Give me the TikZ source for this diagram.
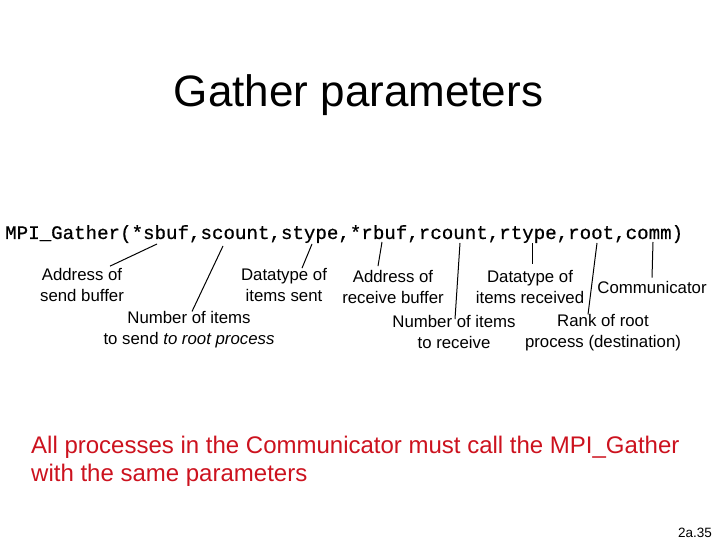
\documentclass[tikz,border=0pt]{standalone}
\usepackage{fontspec}
\setmainfont{Liberation Sans}
\newfontfamily\codefont[FakeBold=0.6]{Liberation Mono}
\definecolor{notered}{RGB}{204,18,30}

\begin{document}
\begin{tikzpicture}[x=1pt,y=-1pt,
  lbl/.style={align=center,inner sep=0pt,font=\fontsize{16.8}{21}\selectfont},
  pointer/.style={draw=black,line width=1pt}]
\useasboundingbox (0,0) rectangle (720,540);
%% Title and the call itself
\node[anchor=base,inner sep=0pt] (title) at (358.5,107) {\fontsize{44}{50}\selectfont Gather parameters};
\node[anchor=base west,inner sep=0pt] (call) at (5,239)
  {\fontsize{19.15}{22}\selectfont\codefont MPI\_Gather(*sbuf,scount,stype,*rbuf,rcount,rtype,root,comm)};
%% Points under the parameters where the lines start
\coordinate (sbuf) at (157,244);
\coordinate (scount) at (223,246);
\coordinate (stype) at (312,244);
\coordinate (rbuf) at (382,242);
\coordinate (rcount) at (460,243);
\coordinate (rtype) at (532,243);
\coordinate (root) at (597,243);
\coordinate (comm) at (653,242);
%% The labels
\node[lbl] (addrsend) at (82,285) {Address of\\send buffer};
\node[lbl] (typesend) at (284,285) {Datatype of\\items sent};
\node[lbl] (numsend) at (189,330) {Number of items\\to send \textit{to root process}};
\node[lbl] (addrrecv) at (393,287) {Address of\\receive buffer};
\node[lbl] (typerecv) at (530,287) {Datatype of\\items received};
\node[lbl] (commlbl) at (652,287) {Communicator};
\node[lbl] (numrecv) at (454,332) {Number of items\\to receive};
\node[lbl] (rankroot) at (603,333) {Rank of root\\process (destination)};
%% The lines
\draw[pointer] (sbuf) -- ([xshift=28pt,yshift=2pt]addrsend.north);
\draw[pointer] (scount) -- ([xshift=3pt]numsend.north);
\draw[pointer] (stype) -- ([xshift=18pt]typesend.north);
\draw[pointer] (rbuf) -- ([xshift=-15pt,yshift=4pt]addrrecv.north);
\draw[pointer] (rcount) -- ([xshift=1pt,yshift=-4pt]numrecv.north);
\draw[pointer] (rtype) -- ([xshift=2pt,yshift=6pt]typerecv.north);
\draw[pointer] (root) -- ([xshift=-15pt]rankroot.north);
\draw[pointer] (comm) -- ([yshift=3pt]commlbl.north);
%% The note and the page number (base is the last line here)
\node[anchor=base west,inner sep=0pt,align=left,text=notered,font=\fontsize{24}{28}\selectfont] (note) at (31,481)
  {All processes in the Communicator must call the MPI\_Gather\\with the same parameters};
\node[anchor=base east,inner sep=0pt,font=\fontsize{13.5}{16}\selectfont] (pagenum) at (712,537) {2a.35};
\end{tikzpicture}
\end{document}
